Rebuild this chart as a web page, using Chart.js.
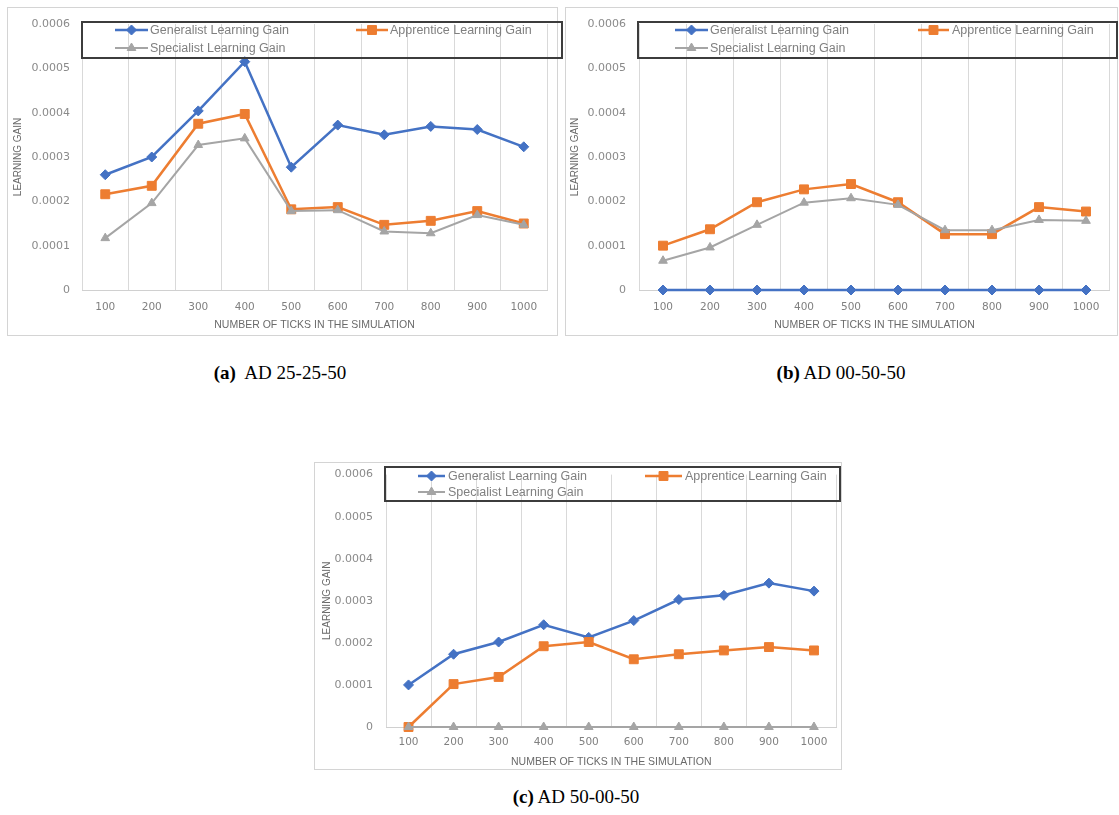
<!DOCTYPE html>
<html><head><meta charset="utf-8">
<script src="https://cdn.jsdelivr.net/npm/chart.js@4/dist/chart.umd.min.js"></script>
<style>
html,body{margin:0;padding:0;background:#fff;}
body{width:1119px;height:815px;position:relative;overflow:hidden;}
canvas{position:absolute;}
.cap{position:absolute;font-family:"Liberation Serif","Times New Roman",serif;font-size:19px;color:#000;white-space:pre;transform:translate(-50%,-50%);}
</style></head><body>
<canvas id="ca" width="564" height="340" style="left:0px;top:0px"></canvas>
<canvas id="cb" width="559" height="340" style="left:560px;top:0px"></canvas>
<canvas id="cc" width="535" height="320" style="left:310px;top:455px"></canvas>
<div class="cap" style="left:280px;top:373px"><b>(a)</b>  AD 25-25-50</div>
<div class="cap" style="left:841px;top:373px"><b>(b)</b> AD 00-50-50</div>
<div class="cap" style="left:576px;top:797px"><b>(c)</b> AD 50-00-50</div>
<script>
// ---------- DATA ----------
const categories = ['100','200','300','400','500','600','700','800','900','1000'];
const seriesNames = ['Generalist Learning Gain','Apprentice Learning Gain','Specialist Learning Gain'];
const xAxisTitle = 'NUMBER OF TICKS IN THE SIMULATION';
const yAxisTitle = 'LEARNING GAIN';
const yMin = 0, yMax = 0.0006, yStep = 0.0001;

const aGeneralist = [0.000260,0.000300,0.000404,0.000515,0.000277,0.000372,0.000350,0.000369,0.000362,0.000323];
const aApprentice = [0.000216,0.000235,0.000375,0.000397,0.000182,0.000187,0.000147,0.000156,0.000178,0.000150];
const aSpecialist = [0.000117,0.000196,0.000327,0.000342,0.000178,0.000180,0.000132,0.000128,0.000169,0.000147];

const bGeneralist = [0,0,0,0,0,0,0,0,0,0];
const bApprentice = [0.000100,0.000137,0.000198,0.000227,0.000239,0.000198,0.000126,0.000126,0.000187,0.000177];
const bSpecialist = [0.000066,0.000096,0.000147,0.000197,0.000207,0.000192,0.000135,0.000135,0.000158,0.000156];

const cGeneralist = [0.000100,0.000173,0.000202,0.000243,0.000213,0.000253,0.000303,0.000313,0.000342,0.000323];
const cApprentice = [0,0.000102,0.000119,0.000192,0.000202,0.000161,0.000173,0.000182,0.000190,0.000182];
const cSpecialist = [0,0,0,0,0,0,0,0,0,0];

// ---------- STYLE ----------
const BLUE = '#4472C4', ORANGE = '#ED7D31', GRAY = '#A5A5A5';
const styles = [
  {color: BLUE, shape: 'rectRot', r: 5, bw: 2.5, order: 2},
  {color: ORANGE, shape: 'rect', r: 6.3, bw: 2.5, order: 1},
  {color: GRAY, shape: 'triangle', r: 5, bw: 2, order: 0}
];

const layouts = {
  a: {w:564,h:340, frame:{x:7,y:7,r:557,b:335}, plot:{l:82,r:547,t:24,b:290}, yLabR:70, yTitleX:18, xTickY:307, xTitleY:325,
      box:{x1:82,y1:22,x2:562,y2:58}, rows:[30,48], items:[{row:0,x1:115,x2:148,tx:150},{row:0,x1:356,x2:388,tx:390},{row:1,x1:115,x2:148,tx:150}]},
  b: {w:559,h:340, frame:{x:5,y:7,r:557,b:335}, plot:{l:79.5,r:549.5,t:24,b:290}, yLabR:66, yTitleX:15, xTickY:307, xTitleY:325,
      box:{x1:78,y1:22,x2:557,y2:58}, rows:[30,48], items:[{row:0,x1:115,x2:148,tx:150},{row:0,x1:358,x2:389,tx:392},{row:1,x1:115,x2:148,tx:150}]},
  c: {w:535,h:320, frame:{x:4,y:7,r:531,b:314}, plot:{l:76,r:526.5,t:15.8,b:272}, yLabR:63, yTitleX:17, xTickY:287, xTitleY:307,
      box:{x1:75,y1:12,x2:530,y2:46}, rows:[21,37], items:[{row:0,x1:108,x2:135,tx:138},{row:0,x1:335,x2:372,tx:375},{row:1,x1:108,x2:135,tx:138}]}
};

function drawMarker(ctx, shape, x, y, r, color) {
  ctx.save();
  ctx.fillStyle = color; ctx.strokeStyle = color; ctx.lineWidth = 1;
  ctx.beginPath();
  if (shape === 'rectRot') {
    ctx.moveTo(x, y - r); ctx.lineTo(x + r, y); ctx.lineTo(x, y + r); ctx.lineTo(x - r, y); ctx.closePath();
  } else if (shape === 'rect') {
    const s = r * Math.SQRT1_2; ctx.rect(x - s, y - s, 2 * s, 2 * s);
  } else {
    const a = -Math.PI / 2;
    for (let k = 0; k < 3; k++) {
      const ang = a + k * 2 * Math.PI / 3;
      const px = x + Math.cos(ang) * r, py = y + Math.sin(ang) * r;
      if (k === 0) ctx.moveTo(px, py); else ctx.lineTo(px, py);
    }
    ctx.closePath();
  }
  ctx.fill(); ctx.stroke();
  ctx.restore();
}

function makePlugin(L) {
  return {
    id: 'deco',
    beforeDraw(chart) {
      const ctx = chart.ctx, f = L.frame;
      ctx.save();
      ctx.fillStyle = '#fff';
      ctx.fillRect(f.x, f.y, f.r - f.x, f.b - f.y);
      ctx.strokeStyle = '#d4d4d4'; ctx.lineWidth = 1;
      ctx.strokeRect(f.x + 0.5, f.y + 0.5, f.r - f.x, f.b - f.y);
      ctx.restore();
    },
    afterDraw(chart) {
      const ctx = chart.ctx, B = L.box;
      ctx.save();
      ctx.strokeStyle = '#3c3c3c'; ctx.lineWidth = 2;
      ctx.strokeRect(B.x1, B.y1, B.x2 - B.x1, B.y2 - B.y1);
      L.items.forEach((it, i) => {
        const st = styles[i], y = L.rows[it.row];
        ctx.strokeStyle = st.color; ctx.lineWidth = st.bw;
        ctx.beginPath(); ctx.moveTo(it.x1, y); ctx.lineTo(it.x2, y); ctx.stroke();
        drawMarker(ctx, st.shape, (it.x1 + it.x2) / 2, y, st.r, st.color);
        ctx.fillStyle = '#808080';
        ctx.font = '12.5px "Liberation Sans", Arial, sans-serif';
        ctx.textBaseline = 'middle'; ctx.textAlign = 'left';
        ctx.fillText(seriesNames[i], it.tx, y + 0.5);
      });
      ctx.restore();
    }
  };
}

function makeChart(id, L, series) {
  const xTickFont = 10.5, xTitleFont = 10.5, yTitleFont = 10, yTickFont = 11;
  const datasets = series.map((d, i) => ({
    label: seriesNames[i], data: d,
    borderColor: styles[i].color, backgroundColor: styles[i].color,
    pointBackgroundColor: styles[i].color, pointBorderColor: styles[i].color,
    pointStyle: styles[i].shape, pointRadius: styles[i].r, pointBorderWidth: 1,
    borderWidth: styles[i].bw, order: styles[i].order, clip: false, tension: 0, fill: false
  }));
  return new Chart(document.getElementById(id), {
    type: 'line',
    data: {labels: categories, datasets},
    options: {
      responsive: false, animation: false, events: [],
      layout: {padding: {left: 0, top: L.plot.t, right: L.w - L.plot.r, bottom: L.h - L.frame.b}},
      plugins: {legend: {display: false}, tooltip: {enabled: false}},
      scales: {
        x: {
          offset: true,
          grid: {offset: true, color: '#d9d9d9', drawTicks: false, lineWidth: 1},
          border: {color: '#d0d0d0', width: 1},
          ticks: {font: {family: '"DejaVu Sans", sans-serif', size: xTickFont}, color: '#808080',
                  padding: L.xTickY - L.plot.b - xTickFont * 0.6, maxRotation: 0, autoSkip: false},
          title: {display: true, text: xAxisTitle, color: '#6a6a6a',
                  font: {family: '"Liberation Sans", Arial, sans-serif', size: xTitleFont},
                  padding: {top: 0, bottom: L.frame.b - L.xTitleY - xTitleFont * 0.6}},
          afterFit: s => { s.height = L.frame.b - L.plot.b; }
        },
        y: {
          min: yMin, max: yMax,
          grid: {display: false, drawTicks: false},
          border: {display: false},
          ticks: {stepSize: yStep, font: {family: '"DejaVu Sans", sans-serif', size: yTickFont}, color: '#8a8a8a',
                  padding: L.plot.l - L.yLabR,
                  callback: v => (Math.abs(v) < 1e-12 ? '0' : v.toFixed(4))},
          title: {display: true, text: yAxisTitle, color: '#6a6a6a',
                  font: {family: '"Liberation Sans", Arial, sans-serif', size: yTitleFont},
                  padding: {top: L.yTitleX - yTitleFont * 0.6, bottom: 0}},
          afterFit: s => { s.width = L.plot.l; }
        }
      }
    },
    plugins: [makePlugin(L)]
  });
}

makeChart('ca', layouts.a, [aGeneralist, aApprentice, aSpecialist]);
makeChart('cb', layouts.b, [bGeneralist, bApprentice, bSpecialist]);
makeChart('cc', layouts.c, [cGeneralist, cApprentice, cSpecialist]);
</script>
</body></html>
